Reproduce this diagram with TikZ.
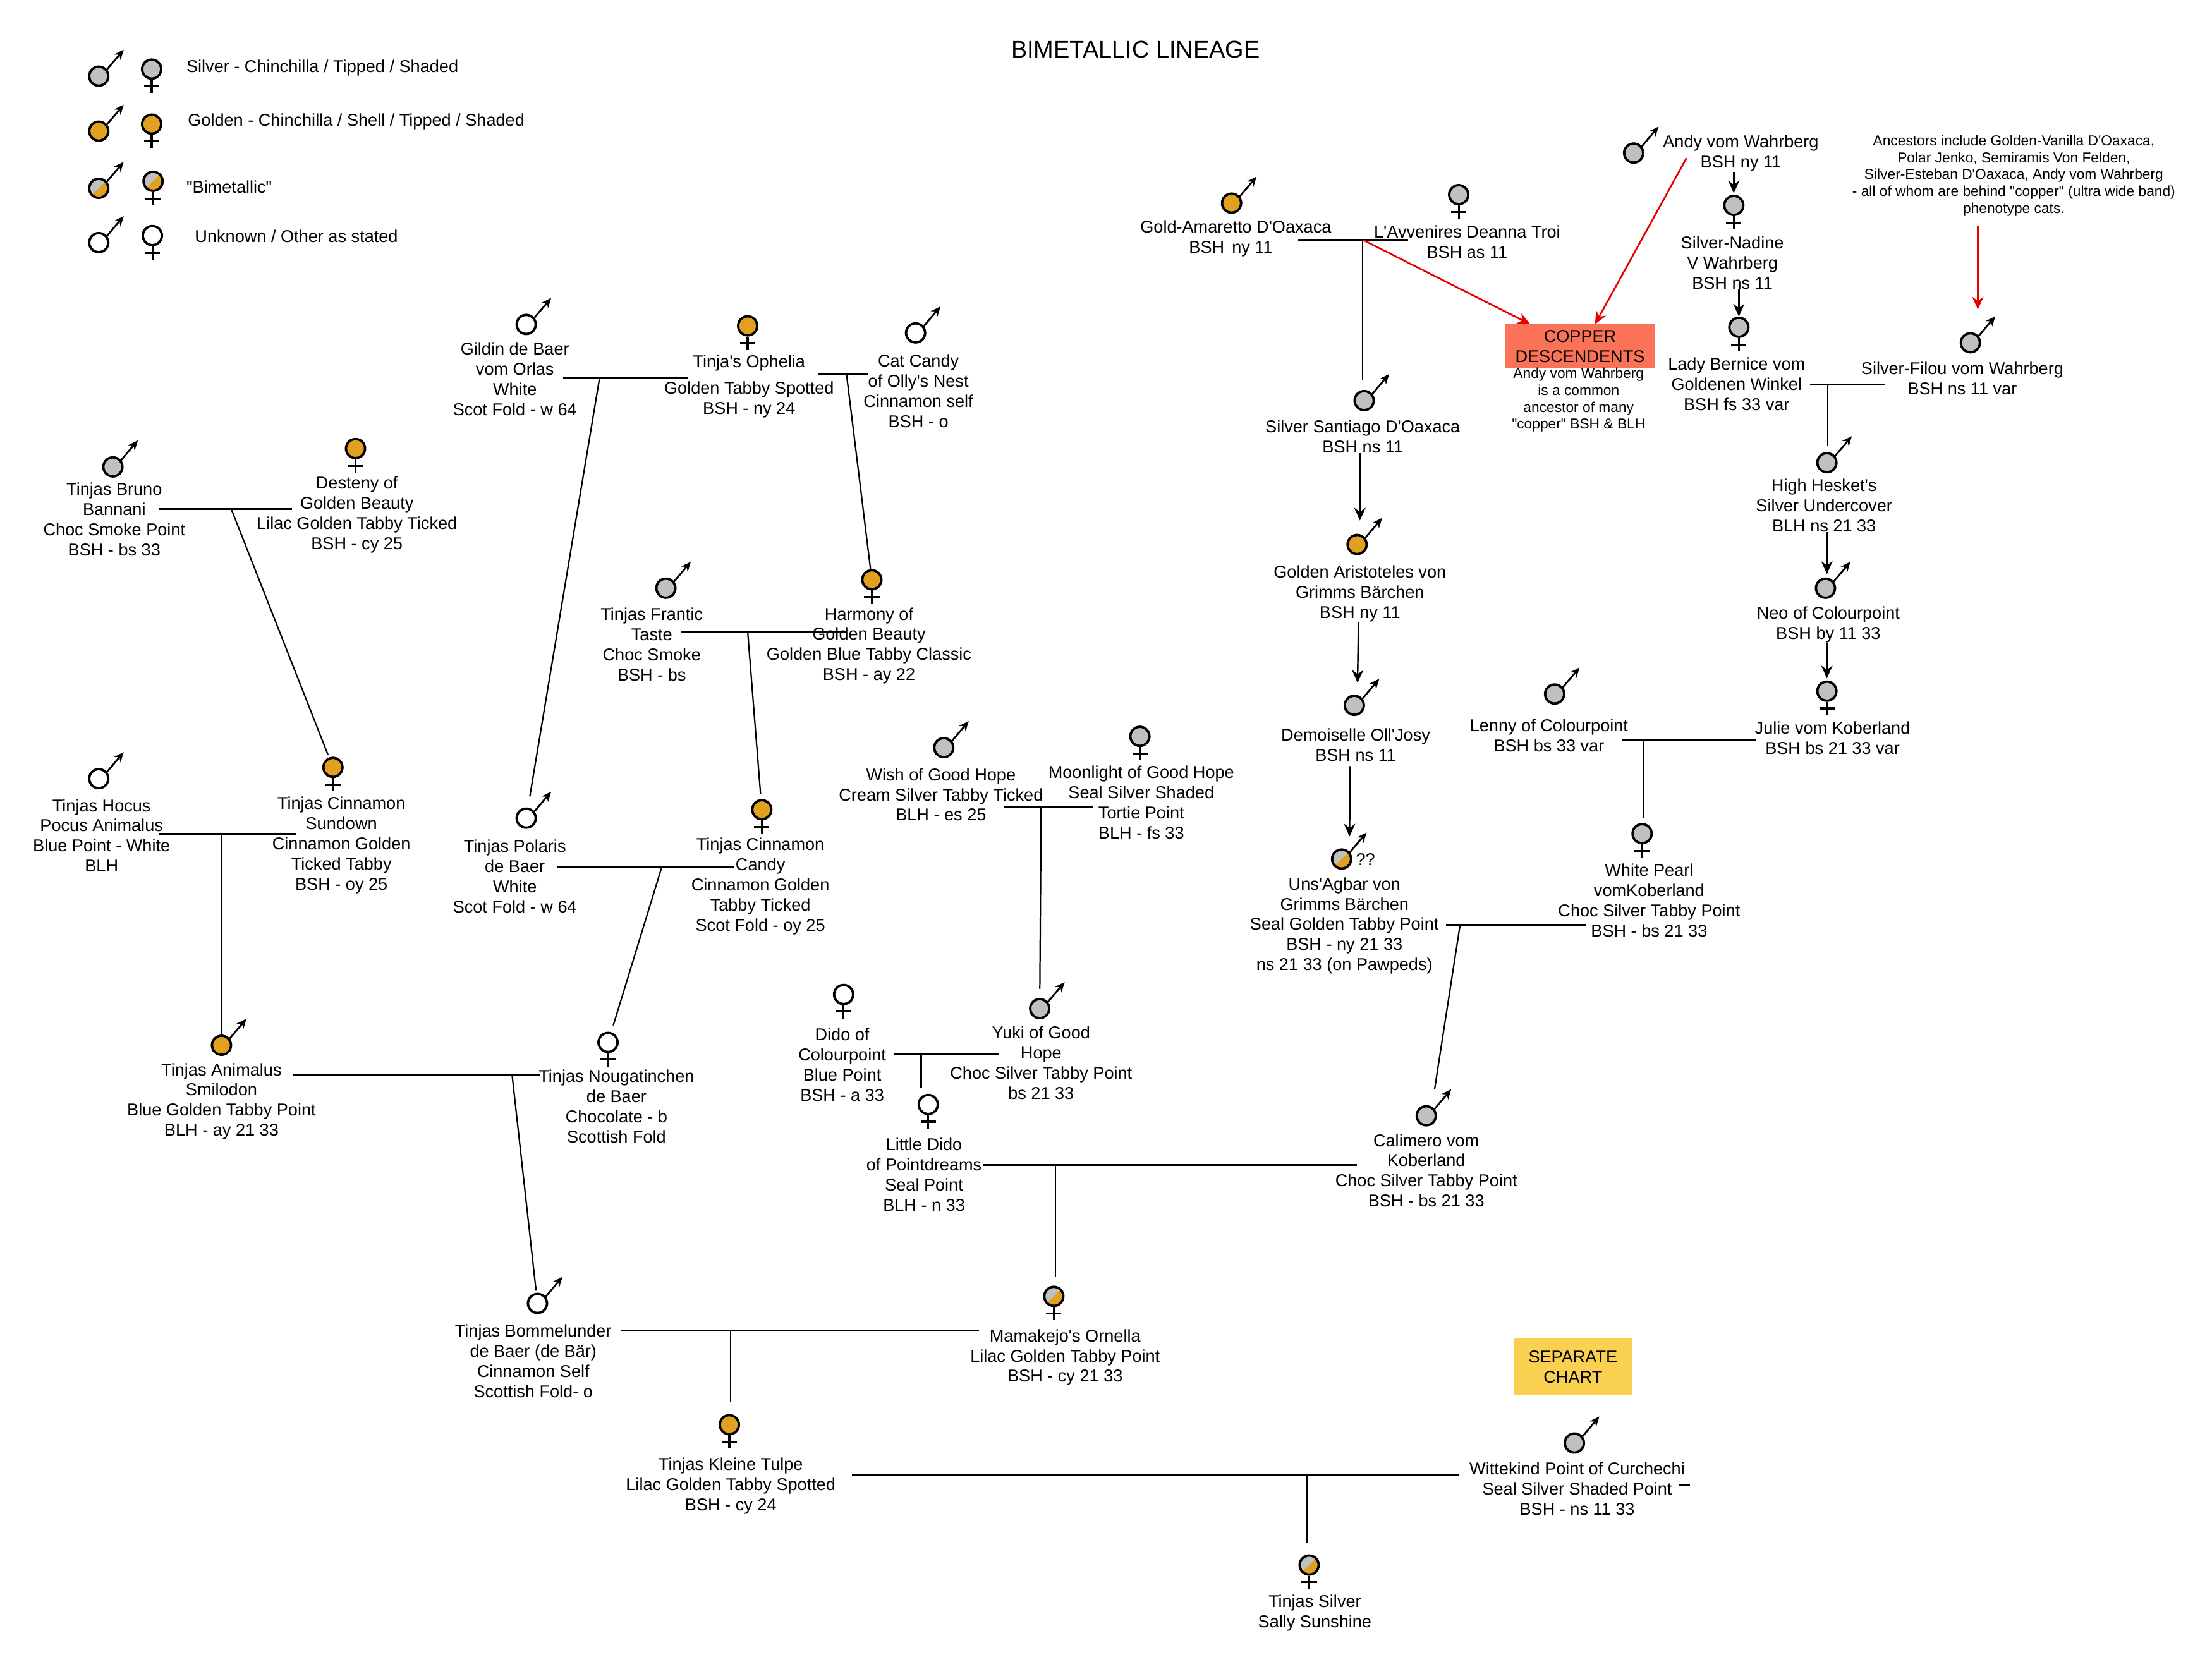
\documentclass[tikz,border=0pt]{standalone}
\usepackage{fontspec}
\setmainfont{Liberation Sans}[Ligatures=TeXOff]
\usetikzlibrary{arrows.meta}
\definecolor{silvercat}{RGB}{192,192,192}
\definecolor{goldcat}{RGB}{226,160,32}
\definecolor{copperbox}{RGB}{250,115,88}
\definecolor{chartbox}{RGB}{250,208,80}
\tikzset{
  >={Stealth[length=9pt,width=8pt]},
  catsym/.style={circle,draw,line width=1.7pt,minimum size=13.5pt,inner sep=0pt},
  silver/.style={catsym,fill=silvercat},
  golden/.style={catsym,fill=goldcat},
  plain/.style={catsym,fill=white},
  bimetal/.style={catsym,fill=silvercat,path picture={
    \fill[goldcat] (path picture bounding box.south west) -- (path picture bounding box.south east)
      -- (path picture bounding box.north east) -- cycle;}},
  maleline/.style={line width=1.25pt,-{Stealth[length=7pt,width=6pt]}},
  femaleline/.style={line width=1.4pt},
  cattext/.style={align=center,inner sep=0pt,yshift=-0.3pt,font=\fontsize{12.15}{14.3}\selectfont},
  smalltext/.style={align=center,inner sep=0pt,yshift=-0.5pt,font=\fontsize{10.2}{12}\selectfont},
  bar/.style={line width=1.25pt},
  descent/.style={line width=1pt},
  redline/.style={red!90!black,line width=1.2pt,->},
  blackline/.style={line width=1.1pt,->}
}
% Symbole: Name, Position, Stil
\newcommand{\malecat}[3]{%
  \node[#3] (#1) at (#2) {};
  \draw[maleline] ([shift={(5.6,-4.5)}]#1.center) -- ([shift={(17.7,-18.8)}]#1.center);
}
\newcommand{\femalecat}[3]{%
  \node[#3] (#1) at (#2) {};
  \draw[femaleline] ([shift={(0,7.6)}]#1.center) -- ([shift={(0,17)}]#1.center);
  \draw[femaleline] ([shift={(-5.4,12.2)}]#1.center) -- ([shift={(5.4,12.2)}]#1.center);
}
\begin{document}
\begin{tikzpicture}[x=1pt,y=-1pt]
    \useasboundingbox (0,0) rectangle (1568,1177.8);

    % Titel
    \node[inner sep=0pt,font=\fontsize{17}{19}\selectfont] (title) at (805,35) {BIMETALLIC LINEAGE};

    % Legende
    \malecat{legA}{70,54}{silver}
    \femalecat{legB}{107.5,49}{silver}
    \malecat{legC}{70,93}{golden}
    \femalecat{legD}{107.5,88}{golden}
    \malecat{legE}{70,133.5}{bimetal}
    \femalecat{legF}{108.5,128.5}{bimetal}
    \malecat{legG}{70,172}{plain}
    \femalecat{legH}{108,167}{plain}
    \node[cattext,anchor=west] (legtextA) at (132,48) {Silver - Chinchilla / Tipped / Shaded};
    \node[cattext,anchor=west] (legtextB) at (133,86) {Golden - Chinchilla / Shell / Tipped / Shaded};
    \node[cattext,anchor=west] (legtextC) at (132,132) {"Bimetallic"};
    \node[cattext,anchor=west] (legtextD) at (138,167) {Unknown / Other as stated};

    % Katzen links
    \malecat{bruno}{80,331}{silver}
    \node[cattext] (brunoT) at (81,368) {Tinjas Bruno\\Bannani\\Choc Smoke Point\\BSH - bs 33};
    \femalecat{desteny}{252,318}{golden}
    \node[cattext] (destenyT) at (253,364.5) {Desteny of\\Golden Beauty\\Lilac Golden Tabby Ticked\\BSH - cy 25};
    \femalecat{sundown}{236,544}{golden}
    \node[cattext] (sundownT) at (242,599) {Tinjas Cinnamon\\Sundown\\Cinnamon Golden\\Ticked Tabby\\BSH - oy 25};
    \malecat{hocus}{70,552}{plain}
    \node[cattext] (hocusT) at (72,592) {Tinjas Hocus\\Pocus Animalus\\Blue Point - White\\BLH};
    \malecat{animalus}{157,741}{golden}
    \node[cattext] (animalusT) at (157,780.5) {Tinjas Animalus\\Smilodon\\Blue Golden Tabby Point\\BLH - ay 21 33};
    \femalecat{nougat}{431,739}{plain}
    \node[cattext] (nougatT) at (437,784) {Tinjas Nougatinchen\\de Baer\\Chocolate - b\\Scottish Fold};
    \malecat{bommel}{381,924}{plain}
    \node[cattext] (bommelT) at (378,964.5) {Tinjas Bommelunder\\de Baer (de Bär)\\Cinnamon Self\\Scottish Fold- o};

    % Katzen Mitte oben
    \malecat{gildin}{373,230}{plain}
    \node[cattext] (gildinT) at (365,268.5) {Gildin de Baer\\vom Orlas\\White\\Scot Fold - w 64};
    \femalecat{ophelia}{530,231}{golden}
    \node[cattext] (opheliaT) at (531,257) {Tinja's Ophelia};
    \node[cattext] (opheliaU) at (531,283) {Golden Tabby Spotted\\BSH - ny 24};
    \malecat{candy}{649,236}{plain}
    \node[cattext] (candyT) at (651,277) {Cat Candy\\of Olly's Nest\\Cinnamon self\\BSH - o};
    \femalecat{harmony}{618,411}{golden}
    \node[cattext] (harmonyT) at (616,457.5) {Harmony of\\Golden Beauty\\Golden Blue Tabby Classic\\BSH - ay 22};
    \malecat{polaris}{373,580}{plain}
    \node[cattext] (polarisT) at (365,621) {Tinjas Polaris\\de Baer\\White\\Scot Fold - w 64};
    \malecat{frantic}{472,417}{silver}
    \node[cattext] (franticT) at (462,456.5) {Tinjas Frantic\\Taste\\Choc Smoke\\BSH - bs};
    \femalecat{cinncandy}{540,574}{golden}
    \node[cattext] (cinncandyT) at (539,628) {Tinjas Cinnamon\\Candy\\Cinnamon Golden\\Tabby Ticked\\Scot Fold - oy 25};

    % Katzen Mitte unten
    \malecat{wish}{669,530}{silver}
    \node[cattext] (wishT) at (667,563) {Wish of Good Hope\\Cream Silver Tabby Ticked\\BLH - es 25};
    \femalecat{moonlight}{808,522}{silver}
    \node[cattext] (moonlightT) at (809,568.5) {Moonlight of Good Hope\\Seal Silver Shaded\\Tortie Point\\BLH - fs 33};
    \malecat{yuki}{737,715}{silver}
    \node[cattext] (yukiT) at (738,753) {Yuki of Good\\Hope\\Choc Silver Tabby Point\\bs 21 33};
    \femalecat{dido}{598,705}{plain}
    \node[cattext] (didoT) at (597,754.5) {Dido of\\Colourpoint\\Blue Point\\BSH - a 33};
    \femalecat{little}{658,783}{plain}
    \node[cattext] (littleT) at (655,832.5) {Little Dido\\of Pointdreams\\Seal Point\\BLH - n 33};
    \malecat{calimero}{1011,791}{silver}
    \node[cattext] (calimeroT) at (1011,829.5) {Calimero vom\\Koberland\\Choc Silver Tabby Point\\BSH - bs 21 33};
    \femalecat{ornella}{747,919}{bimetal}
    \node[cattext] (ornellaT) at (755,962) {Mamakejo's Ornella\\Lilac Golden Tabby Point\\BSH - cy 21 33};
    \femalecat{tulpe}{517,1010}{golden}
    \node[cattext] (tulpeT) at (518,1053) {Tinjas Kleine Tulpe\\Lilac Golden Tabby Spotted\\BSH - cy 24};
    \femalecat{sally}{928,1109.5}{bimetal}
    \node[cattext] (sallyT) at (932,1143) {Tinjas Silver\\Sally Sunshine};
    \malecat{wittekind}{1116,1023}{silver}
    \node[cattext] (wittekindT) at (1118,1055) {Wittekind Point of Curchechi\\Seal Silver Shaded Point\\BSH - ns 11 33};

    % Katzen rechts
    \malecat{amaretto}{873,144}{golden}
    \node[cattext] (amarettoT) at (876,169) {Gold-Amaretto D'Oaxaca\\BSH\ \,ny 11\kern7pt};
    \femalecat{deanna}{1034,138}{silver}
    \node[cattext] (deannaT) at (1040,171) {L'Avvenires Deanna Troi\\BSH as 11};
    \malecat{santiago}{967,284}{silver}
    \node[cattext] (santiagoT) at (966,309) {Silver Santiago D'Oaxaca\\BSH ns 11};
    \malecat{aristoteles}{962,386}{golden}
    \node[cattext] (aristotelesT) at (964,420.5) {Golden Aristoteles von\\Grimms Bärchen\\BSH ny 11};
    \malecat{josy}{960,500}{silver}
    \node[cattext] (josyT) at (961,528) {Demoiselle Oll'Josy\\BSH ns 11};
    \malecat{agbar}{951,609}{bimetal}
    \node[cattext] (agbarQ) at (968,609) {??};
    \node[cattext] (agbarT) at (953,656) {Uns'Agbar von\\Grimms Bärchen\\Seal Golden Tabby Point\\BSH - ny 21 33\\ns 21 33 (on Pawpeds)};
    \malecat{andy}{1158,108.5}{silver}
    \node[cattext] (andyT) at (1234,108.5) {Andy vom Wahrberg\\BSH ny 11};
    \femalecat{nadine}{1229,145.6}{silver}
    \node[cattext] (nadineT) at (1228,186) {Silver-Nadine\\V Wahrberg\\BSH ns 11};
    \femalecat{bernice}{1232.6,232}{silver}
    \node[cattext] (berniceT) at (1231,272) {Lady Bernice vom\\Goldenen Winkel\\BSH fs 33 var};
    \malecat{filou}{1396.7,243}{silver}
    \node[cattext] (filouT) at (1391,268) {Silver-Filou vom Wahrberg\\BSH ns 11 var};
    \malecat{hesket}{1295,328}{silver}
    \node[cattext] (hesketT) at (1293,358) {High Hesket's\\Silver Undercover\\BLH ns 21 33};
    \malecat{neo}{1294,417}{silver}
    \node[cattext] (neoT) at (1296,442.5) {Neo of Colourpoint\\BSH by 11 33};
    \femalecat{julie}{1295,490}{silver}
    \node[cattext] (julieT) at (1299,523) {Julie vom Koberland\\BSH bs 21 33 var};
    \malecat{lenny}{1102,492}{silver}
    \node[cattext] (lennyT) at (1098,521) {Lenny of Colourpoint\\BSH bs 33 var};
    \femalecat{pearl}{1164,591}{silver}
    \node[cattext] (pearlT) at (1169,638) {White Pearl\\vomKoberland\\Choc Silver Tabby Point\\BSH - bs 21 33};

    % Hinweise und Kästen
    \node[cattext,yshift=0.3pt,fill=copperbox,minimum width=106.3pt,minimum height=31pt] (copper) at (1120,245.5) {COPPER\\DESCENDENTS};
    \node[smalltext] (copperT) at (1119,283) {Andy vom Wahrberg\\is a common\\ancestor of many\\"copper" BSH \& BLH};
    \node[smalltext] (ancestors) at (1427.5,124) {Ancestors include Golden-Vanilla D'Oaxaca,\\Polar Jenko, Semiramis Von Felden,\\Silver-Esteban D'Oaxaca, Andy vom Wahrberg\\- all of whom are behind "copper" (ultra wide band)\\phenotype cats.};
    \node[cattext,yshift=0.3pt,fill=chartbox,minimum width=84pt,minimum height=40pt] (chart) at (1115,969) {SEPARATE\\CHART};

    % Paarbalken: links, rechts, Abzweig
    \coordinate (brunoL) at (113,361); \coordinate (brunoR) at (207,361); \coordinate (brunoJ) at (164,361);
    \coordinate (hocusL) at (113,591); \coordinate (hocusR) at (210,591); \coordinate (hocusJ) at (157,591);
    \coordinate (animalusL) at (208,762); \coordinate (animalusR) at (383,762); \coordinate (animalusJ) at (363,762);
    \coordinate (gildinL) at (399,268); \coordinate (gildinR) at (488,268); \coordinate (gildinJ) at (425,268);
    \coordinate (candyL) at (580,265); \coordinate (candyR) at (615,265); \coordinate (candyJ) at (600,265);
    \coordinate (franticL) at (483,448); \coordinate (franticR) at (600,448); \coordinate (franticJ) at (530,448);
    \coordinate (polarisL) at (395,615); \coordinate (polarisR) at (520,615); \coordinate (polarisJ) at (469,615);
    \coordinate (wishL) at (712,572); \coordinate (wishR) at (775,572); \coordinate (wishJ) at (738,572);
    \coordinate (didoL) at (634,747); \coordinate (didoR) at (708,747); \coordinate (didoJ) at (653,747);
    \coordinate (littleL) at (697,826); \coordinate (littleR) at (962,826); \coordinate (littleJ) at (748,826);
    \coordinate (bommelL) at (440,943); \coordinate (bommelR) at (694,943); \coordinate (bommelJ) at (518,943);
    \coordinate (tulpeL) at (604,1046); \coordinate (tulpeR) at (1034,1046); \coordinate (tulpeJ) at (926.5,1046);
    \coordinate (amarettoL) at (920,170); \coordinate (amarettoR) at (998,170); \coordinate (amarettoJ) at (966,170);
    \coordinate (berniceL) at (1283,272.5); \coordinate (berniceR) at (1336,272.5); \coordinate (berniceJ) at (1295.5,272.5);
    \coordinate (lennyL) at (1150,524.5); \coordinate (lennyR) at (1245,524.5); \coordinate (lennyJ) at (1165,524.5);
    \coordinate (agbarL) at (1025,655.5); \coordinate (agbarR) at (1124,655.5); \coordinate (agbarJ) at (1035,655.5);
    \coordinate (dashL) at (1190,1052.5); \coordinate (dashR) at (1198,1052.5);

    \draw[bar] (brunoL) -- (brunoR);
    \draw[bar] (hocusL) -- (hocusR);
    \draw[bar] (animalusL) -- (animalusR);
    \draw[bar] (gildinL) -- (gildinR);
    \draw[bar] (candyL) -- (candyR);
    \draw[bar] (franticL) -- (franticR);
    \draw[bar] (polarisL) -- (polarisR);
    \draw[bar] (wishL) -- (wishR);
    \draw[bar] (didoL) -- (didoR);
    \draw[bar] (littleL) -- (littleR);
    \draw[bar] (bommelL) -- (bommelR);
    \draw[bar] (tulpeL) -- (tulpeR);
    \draw[bar] (amarettoL) -- (amarettoR);
    \draw[bar] (berniceL) -- (berniceR);
    \draw[bar] (lennyL) -- (lennyR);
    \draw[bar] (agbarL) -- (agbarR);
    \draw[bar] (dashL) -- (dashR);

    % Linien zu den Kindern
    \draw[descent,shorten >=2pt] (brunoJ) -- (sundown);
    \draw[descent] (hocusJ) -- (animalus);
    \draw[descent,shorten >=1.5pt] (animalusJ) -- (bommel);
    \draw[descent,shorten >=8pt] (gildinJ) -- (polaris);
    \draw[descent] (candyJ) -- (harmony);
    \draw[descent,shorten >=3.5pt] (franticJ) -- (cinncandy);
    \draw[descent,shorten >=5pt] (polarisJ) -- (nougat);
    \draw[descent,shorten >=6.5pt] (wishJ) -- (yuki);
    \draw[descent,shorten >=4pt] (didoJ) -- (didoJ |- little.north);
    \draw[descent,shorten >=6.5pt] (littleJ) -- (littleJ |- ornella.north);
    \draw[descent,shorten >=8.5pt] (bommelJ) -- (bommelJ |- tulpe.north);
    \draw[descent,shorten >=8.5pt] (tulpeJ) -- (tulpeJ |- sally.north);
    \draw[descent,shorten >=6.5pt] (amarettoJ) -- (amarettoJ |- santiago.north);
    \draw[descent,shorten >=4.5pt] (berniceJ) -- (berniceJ |- hesket.north);
    \draw[descent,shorten >=3.5pt] (lennyJ) -- (lennyJ |- pearl.north);
    \draw[descent,shorten >=19pt] (agbarJ) -- ([xshift=3pt]calimero.center);

    % Schwarze Pfeile
    \draw[blackline,shorten >=1pt] (nadine |- andyT.south) -- (nadine);
    \draw[blackline] (bernice |- nadineT.south) -- (bernice);
    \draw[blackline,shorten >=2.5pt] (hesket |- hesketT.south) -- (hesket |- neo.north);
    \draw[blackline,shorten >=1.5pt] (julie |- neoT.south) -- (julie);
    \draw[blackline,shorten >=17pt] ([xshift=-2pt]santiagoT.south) -- ([xshift=2pt]aristoteles.center);
    \draw[blackline,shorten >=16pt] ([xshift=-1pt]aristotelesT.south) -- ([xshift=2pt]josy.center);
    \draw[blackline,shorten <=3pt,shorten >=16pt] ([xshift=-4pt]josyT.south) -- ([xshift=5.5pt]agbar.center);

    % Rote Pfeile
    \coordinate (redA) at (1195.5,112);
    \coordinate (redB) at (1402,160);
    \draw[redline] (amarettoJ) -- ([xshift=18pt]copper.north west);
    \draw[redline] (redA) -- ([xshift=64pt]copper.north west);
    \draw[redline,shorten >=16pt] (redB) -- (redB |- filou.north);
\end{tikzpicture}
\end{document}
